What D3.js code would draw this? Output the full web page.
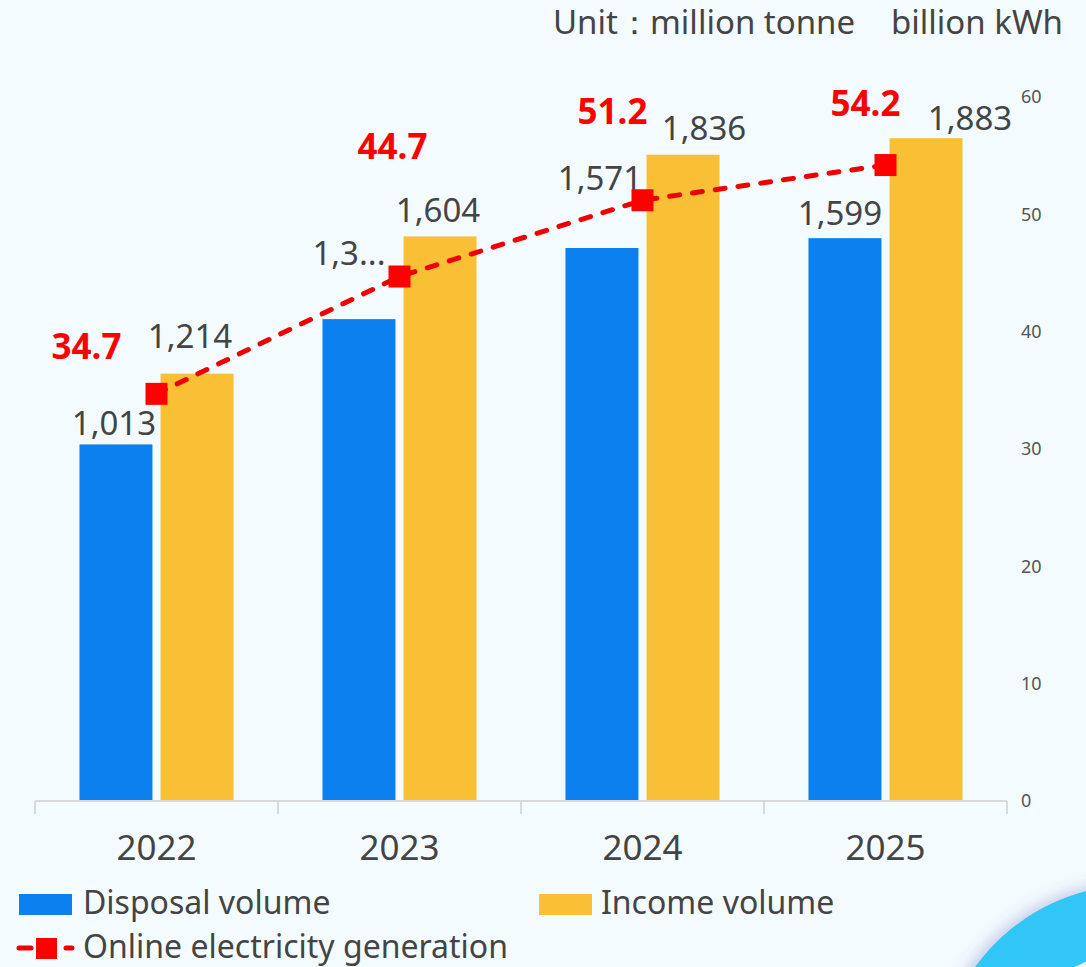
<!DOCTYPE html>
<html>
<head>
<meta charset="utf-8">
<script src="https://cdn.jsdelivr.net/npm/d3@7"></script>
<style>
  html, body { margin: 0; padding: 0; background: #f3fbfe; }
  svg { display: block; }
  text { font-family: "Noto Sans", "Open Sans", sans-serif; }
</style>
</head>
<body>
<svg id="chart" width="1086" height="967"></svg>
<script>
// ---- data ----
const years = ["2022", "2023", "2024", "2025"];
const disposalVolume = [1013, 1369, 1571, 1599];   // million tonne
const incomeVolume = [1214, 1604, 1836, 1883];     // million tonne
const onlineGeneration = [34.7, 44.7, 51.2, 54.2]; // billion kWh
const rightTicks = [0, 10, 20, 30, 40, 50, 60];

// ---- label placement (offsets from the anchor of each mark) ----
const disposalLabelOffset = [[-2, -9], [-10, -54], [-2, -58], [-5, -13]];
const disposalLabelMaxWidth = [null, 78, null, null];
const incomeLabelOffset = [[-7, -26], [-2, -14], [21, -15], [44, -8]];
const lineLabelOffset = [[-70, -47], [-7, -130], [-30, -89], [-20, -61]];

const colors = { disposal: "#0d80f0", income: "#f9bf35", line: "#ee0000", marker: "#ff0000", text: "#444444" };

const svg = d3.select("#chart");
const plot = { left: 35, right: 1007, top: 97, bottom: 801 };

// decorative ring in the lower-right corner
const defs = svg.append("defs");
const shadow = defs.append("filter").attr("id", "ringShadow")
  .attr("x", "-30%").attr("y", "-30%").attr("width", "160%").attr("height", "160%");
shadow.append("feDropShadow").attr("dx", -4).attr("dy", -3).attr("stdDeviation", 7)
  .attr("flood-color", "#5a5fb0").attr("flood-opacity", 0.3);
svg.append("path")
  .attr("transform", "translate(1135,1082)")
  .attr("d", d3.arc()({ innerRadius: 130, outerRadius: 197, startAngle: 0, endAngle: 2 * Math.PI }))
  .attr("fill", "#31c6f6")
  .attr("filter", "url(#ringShadow)");

// scales
const x = d3.scaleBand().domain(years).range([plot.left, plot.right]);
const xSub = d3.scaleBand().domain(["disposal", "income"])
  .range([x.bandwidth() * 0.183, x.bandwidth() * 0.817]).paddingInner(0.1);
const yLeft = d3.scaleLinear().domain([0, 2000]).range([plot.bottom, plot.top]);
const yRight = d3.scaleLinear().domain([0, 60]).range([plot.bottom, plot.top]);

// unit caption
const cap = svg.append("g").attr("font-size", 33).attr("fill", colors.text);
cap.append("text").attr("x", 553).attr("y", 34).text("Unit：");
cap.append("text").attr("x", 650).attr("y", 34).text("million tonne");
cap.append("text").attr("x", 1063).attr("y", 34).attr("text-anchor", "end").text("billion kWh");

// bars
const seriesDefs = [
  { key: "disposal", values: disposalVolume, color: colors.disposal, offs: disposalLabelOffset, maxW: disposalLabelMaxWidth },
  { key: "income", values: incomeVolume, color: colors.income, offs: incomeLabelOffset, maxW: [null, null, null, null] }
];
const fmt = d3.format(",");

seriesDefs.forEach(s => {
  const g = svg.append("g");
  g.selectAll("rect").data(s.values).join("rect")
    .attr("x", (d, i) => x(years[i]) + xSub(s.key))
    .attr("y", d => yLeft(d))
    .attr("width", xSub.bandwidth())
    .attr("height", d => yLeft(0) - yLeft(d))
    .attr("fill", s.color);
  g.selectAll("text").data(s.values).join("text")
    .attr("x", (d, i) => x(years[i]) + xSub(s.key) + xSub.bandwidth() / 2 + s.offs[i][0])
    .attr("y", (d, i) => yLeft(d) + s.offs[i][1])
    .attr("text-anchor", "middle")
    .attr("font-size", 33)
    .attr("fill", colors.text)
    .text(d => fmt(d))
    .each(function (d, i) {
      const maxW = s.maxW[i];
      if (!maxW) return;
      const el = d3.select(this);
      let str = fmt(d);
      while (this.getComputedTextLength() > maxW && str.length > 1) {
        str = str.slice(0, -1);
        el.text(str + "...");
      }
    });
});

// x axis
const xAxisG = svg.append("g");
xAxisG.append("line")
  .attr("x1", plot.left).attr("x2", plot.right)
  .attr("y1", plot.bottom).attr("y2", plot.bottom)
  .attr("stroke", "#d9d9d9").attr("stroke-width", 2);
const tickXs = years.map(y => x(y)).concat([x(years[years.length - 1]) + x.step()]);
xAxisG.selectAll("line.tick").data(tickXs).join("line").attr("class", "tick")
  .attr("x1", d => d).attr("x2", d => d)
  .attr("y1", plot.bottom).attr("y2", plot.bottom + 13)
  .attr("stroke", "#d9d9d9").attr("stroke-width", 2);
xAxisG.selectAll("text").data(years).join("text")
  .attr("x", d => x(d) + x.bandwidth() / 2)
  .attr("y", 860)
  .attr("text-anchor", "middle")
  .attr("font-size", 35)
  .attr("fill", colors.text)
  .text(d => d);

// right axis labels
svg.append("g").selectAll("text").data(rightTicks).join("text")
  .attr("x", 1021)
  .attr("y", d => yRight(d))
  .attr("dy", "0.35em")
  .attr("font-size", 18)
  .attr("fill", "#555")
  .text(d => d);

// line series
const pts = onlineGeneration.map((v, i) => [x(years[i]) + x.bandwidth() / 2, yRight(v)]);
svg.append("path")
  .attr("d", d3.line()(pts))
  .attr("fill", "none")
  .attr("stroke", colors.line)
  .attr("stroke-width", 5)
  .attr("stroke-linecap", "round")
  .attr("stroke-dasharray", "10 13");
const mk = 22;
svg.append("g").selectAll("rect").data(pts).join("rect")
  .attr("x", d => d[0] - mk / 2).attr("y", d => d[1] - mk / 2)
  .attr("width", mk).attr("height", mk)
  .attr("fill", colors.marker);
svg.append("g").selectAll("text").data(onlineGeneration).join("text")
  .attr("x", (d, i) => pts[i][0] + lineLabelOffset[i][0])
  .attr("y", (d, i) => pts[i][1] + lineLabelOffset[i][1])
  .attr("dy", "0.35em")
  .attr("text-anchor", "middle")
  .attr("font-size", 35)
  .attr("font-weight", "bold")
  .attr("fill", colors.marker)
  .text(d => d.toFixed(1));

// legend
const legend = svg.append("g");
legend.append("rect").attr("x", 19).attr("y", 894).attr("width", 53).attr("height", 21).attr("fill", colors.disposal);
legend.append("text").attr("x", 83).attr("y", 903).attr("dy", "0.35em").attr("font-size", 32).attr("fill", colors.text).text("Disposal volume");
legend.append("rect").attr("x", 539).attr("y", 894).attr("width", 53).attr("height", 21).attr("fill", colors.income);
legend.append("text").attr("x", 601).attr("y", 903).attr("dy", "0.35em").attr("font-size", 32).attr("fill", colors.text).text("Income volume");
legend.append("path").attr("d", "M19,948H31M66,948H72")
  .attr("stroke", colors.line).attr("stroke-width", 5).attr("stroke-linecap", "round");
legend.append("rect").attr("x", 36).attr("y", 938).attr("width", 21).attr("height", 21).attr("fill", colors.marker);
legend.append("text").attr("x", 83).attr("y", 947).attr("dy", "0.35em").attr("font-size", 32).attr("fill", colors.text).text("Online electricity generation");
</script>
</body>
</html>
